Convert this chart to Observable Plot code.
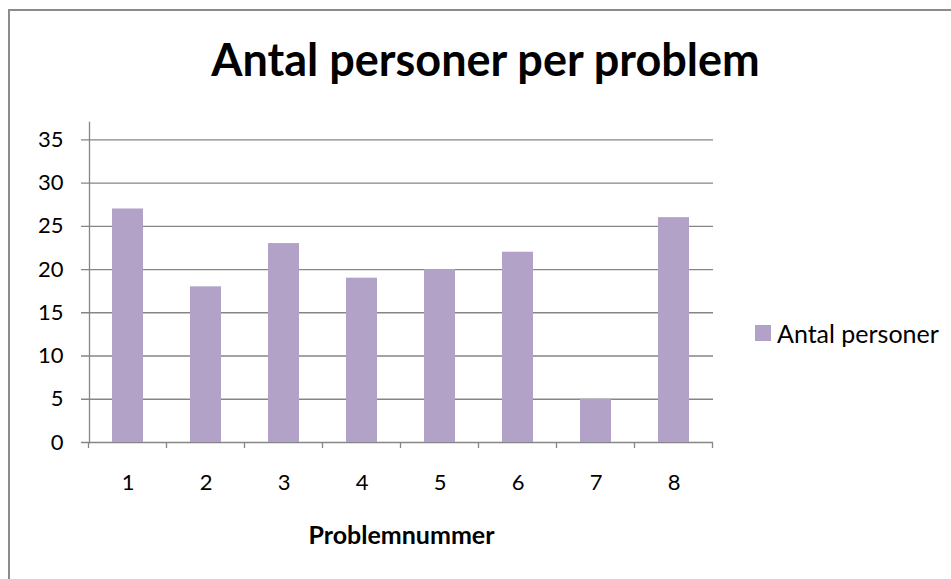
<!DOCTYPE html>
<html>
<head>
<meta charset="utf-8">
<script src="https://cdn.jsdelivr.net/npm/d3@7"></script>
<script src="https://cdn.jsdelivr.net/npm/@observablehq/plot@0.6"></script>
<style>
  html, body { margin: 0; padding: 0; background: #fff; }
  body { width: 951px; height: 579px; overflow: hidden; position: relative; font-family: Lato, "Open Sans", sans-serif; }
  #frame { position: absolute; left: 8px; top: 9px; width: 960px; height: 600px; border: 2px solid #8c8c8c; box-sizing: border-box; }
  #title { position: absolute; left: 10px; width: 951px; top: 33px; text-align: center; font-size: 45px; font-weight: bold; color: #000; line-height: 52px; white-space: nowrap; }
  #legend { position: absolute; left: 755px; top: 318px; font-size: 25px; color: #000; display: flex; align-items: center; line-height: 30px; }
  #legend .sw { width: 16px; height: 16px; background: #b2a2c7; margin-right: 6px; }
  #chart { position: absolute; left: 0; top: 0; }
</style>
</head>
<body>
<div id="frame"></div>
<div id="chart"></div>
<div id="title">Antal personer per problem</div>
<div id="legend"><div class="sw"></div><span>Antal personer</span></div>
<script>
const categories = ["1", "2", "3", "4", "5", "6", "7", "8"];
const values = [27, 18, 23, 19, 20, 22, 5, 26];
const yTicks = [0, 5, 10, 15, 20, 25, 30, 35];
const seriesName = "Antal personer";
const xTitle = "Problemnummer";

const data = categories.map((c, i) => ({ problem: c, count: values[i], series: seriesName }));
const axisColor = "#868686";

const plot = Plot.plot({
  width: 951,
  height: 579,
  marginLeft: 89,
  marginRight: 238,
  marginTop: 122,
  marginBottom: 137,
  style: { fontFamily: "Lato, 'Open Sans', sans-serif", fontSize: "22px", color: "#000", background: "transparent" },
  x: { domain: categories, paddingInner: 0.6, paddingOuter: 0.3, label: null },
  y: { domain: [0, 37], label: null },
  marks: [
    Plot.ruleY(yTicks, { stroke: axisColor, strokeWidth: 1.3, insetLeft: -8 }),
    Plot.barY(data, { x: "problem", y: "count", fill: "#b2a2c7" }),
    Plot.frame({ anchor: "left", stroke: axisColor, strokeWidth: 1.3 }),
    Plot.axisY({ ticks: yTicks, tickSize: 0, tickPadding: 26, fontSize: 22 }),
    Plot.axisX({ tickSize: 0, tickPadding: 32, fontSize: 22 }),
    Plot.text([xTitle], { frameAnchor: "bottom", dy: 101, fontWeight: "bold", fontSize: 25, textAnchor: "middle" })
  ]
});
document.getElementById("chart").appendChild(plot);

// Excel-style tick marks at the category boundaries (positions from Plot's own scales)
const xs = plot.scale("x");
const ys = plot.scale("y");
const step = xs.step;
const y0 = ys.apply(0);
const bounds = categories.map(c => xs.apply(c) - (step - xs.bandwidth) / 2);
bounds.push(bounds[bounds.length - 1] + step);
const svg = d3.select(plot);
svg.append("g")
  .attr("stroke", axisColor)
  .attr("stroke-width", 1.3)
  .selectAll("line")
  .data(bounds)
  .join("line")
  .attr("x1", d => d).attr("x2", d => d)
  .attr("y1", y0).attr("y2", y0 + 6);
</script>
</body>
</html>
